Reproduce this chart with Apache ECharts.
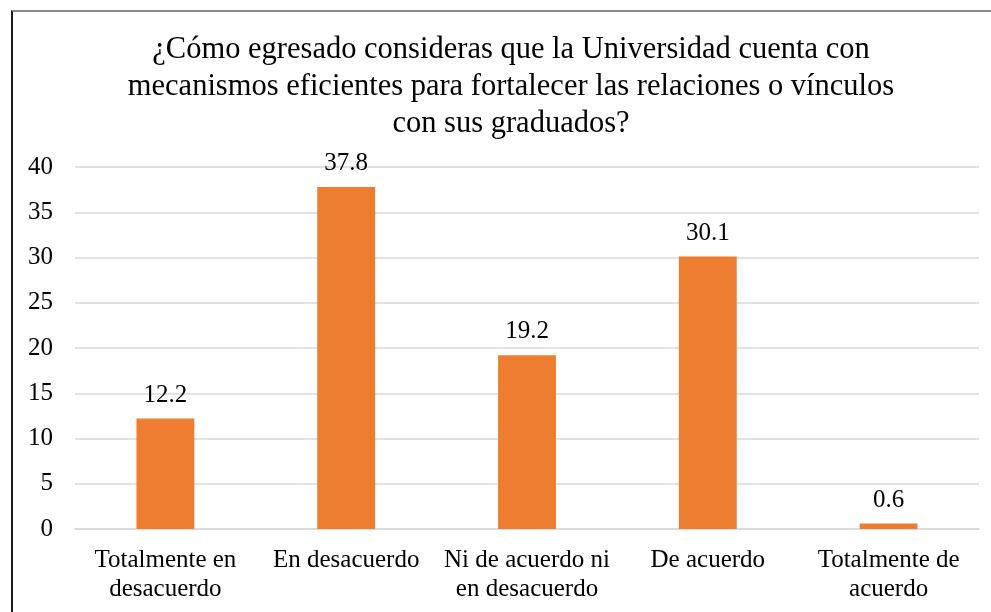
<!DOCTYPE html>
<html>
<head>
<meta charset="utf-8">
<script src="https://cdn.jsdelivr.net/npm/echarts@6/dist/echarts.min.js"></script>
<style>
  html, body { margin: 0; padding: 0; background: #fff; }
  #chart { position: absolute; left: 11px; top: 10px; width: 1000px; height: 620px;
           border-left: 2px solid #1a1a1a; border-top: 2px solid #8a8a8a; box-sizing: border-box; }
</style>
</head>
<body>
<div id="chart"></div>
<script>
// datos de la encuesta
const categories = [
  'Totalmente en\ndesacuerdo',
  'En desacuerdo',
  'Ni de acuerdo ni\nen desacuerdo',
  'De acuerdo',
  'Totalmente de\nacuerdo'
]
const values = [12.2, 37.8, 19.2, 30.1, 0.6]
const yTicks = [0, 5, 10, 15, 20, 25, 30, 35, 40]

const titleText = '¿Cómo egresado consideras que la Universidad cuenta con\n' +
  'mecanismos eficientes para fortalecer las relaciones o vínculos\n' +
  'con sus graduados?'

const font = '"Liberation Serif", "DejaVu Serif", serif'

const chart = echarts.init(document.getElementById('chart'))

chart.setOption({
  animation: false,
  textStyle: { fontFamily: font },
  title: {
    text: titleText,
    left: 493,
    top: 14,
    textAlign: 'center',
    textStyle: {
      fontFamily: font,
      fontSize: 30.5,
      fontWeight: 'normal',
      color: '#000',
      lineHeight: 37
    }
  },
  grid: {
    left: 62,
    top: 155,
    width: 904,
    height: 362,
    containLabel: false
  },
  xAxis: {
    type: 'category',
    data: categories,
    axisLine: { lineStyle: { color: '#d9d9d9', width: 1.5 } },
    axisTick: { show: false },
    axisLabel: {
      fontFamily: font,
      fontSize: 25,
      color: '#000',
      lineHeight: 29,
      margin: 17,
      interval: 0
    }
  },
  yAxis: {
    type: 'value',
    min: yTicks[0],
    max: yTicks[yTicks.length - 1],
    interval: 5,
    axisLine: { show: false },
    axisTick: { show: false },
    axisLabel: {
      fontFamily: font,
      fontSize: 25,
      color: '#000',
      margin: 22
    },
    splitLine: { lineStyle: { color: '#d9d9d9', width: 1.5 } }
  },
  series: [{
    type: 'bar',
    data: values,
    barWidth: '32%',
    itemStyle: { color: '#ED7D31' },
    label: {
      show: true,
      position: 'top',
      distance: 11,
      fontFamily: font,
      fontSize: 25,
      color: '#000'
    }
  }]
})
</script>
</body>
</html>
